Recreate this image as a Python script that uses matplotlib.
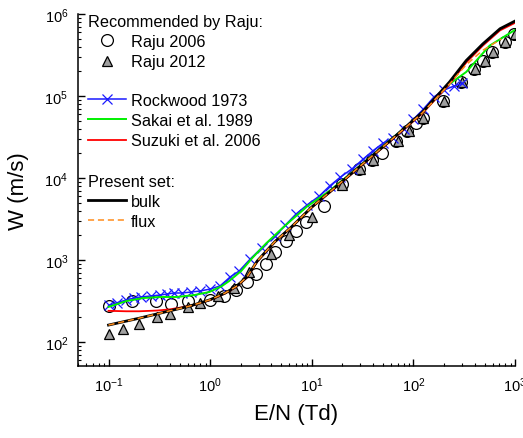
import numpy as np
import matplotlib
matplotlib.use("Agg")
import matplotlib.pyplot as plt
from matplotlib.lines import Line2D

plt.rcParams['font.family'] = ['Liberation Sans', 'DejaVu Sans']
plt.rcParams['mathtext.fontset'] = 'custom'
plt.rcParams['mathtext.rm'] = 'Liberation Sans'

# Raju 2006 (open circles)
raju06_en = [0.1, 0.17, 0.29, 0.41, 0.6, 1.0, 1.37, 1.8, 2.3, 2.84, 3.56, 4.37, 5.6, 7.0, 8.7,
             13.3, 20, 29, 39.5, 49, 68, 87, 107, 125, 195, 290, 390, 480, 590, 790, 980]
raju06_w = [275, 316, 316, 290, 316, 325, 364, 430, 540, 675, 890, 1250, 1700, 2250, 2900,
            4550, 8450, 12900, 16600, 20000, 28000, 37000, 47000, 54000, 87000, 148000,
            215000, 270000, 345000, 460000, 570000]

# Raju 2012 (grey triangles)
raju12_en = [0.1, 0.14, 0.2, 0.3, 0.4, 0.6, 0.8, 1.2, 1.7, 2.4, 4, 6, 10, 20, 30, 40, 70, 90,
             125, 200, 300, 400, 500, 600, 800, 1000]
raju12_w = [125, 145, 166, 200, 220, 268, 300, 364, 455, 715, 1180, 2020, 3350, 8200, 12900,
            16600, 28000, 37000, 54000, 87000, 148000, 215000, 270000, 345000, 460000, 570000]

# Rockwood 1973
rock_en = [0.1, 0.12, 0.15, 0.18, 0.21, 0.26, 0.32, 0.38, 0.44, 0.53, 0.65, 0.8, 1.0, 1.25,
           1.57, 1.93, 2.48, 3.2, 4.3, 5.5, 7.0, 9.0, 11.8, 15, 19, 25, 32, 40, 50, 63, 80,
           100, 125, 160, 200, 250, 300]
rock_w = [280, 300, 326, 345, 354, 364, 374, 385, 396, 396, 407, 419, 443, 482, 620, 735,
          1030, 1400, 1960, 2670, 3640, 4700, 6000, 8000, 10200, 13000, 17000, 21500, 26500,
          31000, 40000, 52000, 69000, 98000, 118000, 132000, 142000]

# Sakai et al. 1989
sakai_en = [0.1, 0.15, 0.22, 0.33, 0.47, 0.7, 0.98, 1.3, 1.54, 2.02, 2.6, 3.56, 5.6, 9, 15,
            29, 60, 122, 226, 330, 560, 1000]
sakai_w = [268, 316, 344, 354, 354, 374, 407, 480, 555, 735, 1060, 1600, 2700, 4500, 7000,
           13700, 29500, 62000, 140000, 196000, 410000, 640000]

# Suzuki et al. 2006
suzuki_en = [0.1, 0.15, 0.2, 0.3, 0.4, 0.5, 0.7, 1.0, 1.4, 1.8, 2.3, 2.9, 4.3, 6.3, 10, 15,
             29, 60, 122, 226, 330, 480, 710, 1000]
suzuki_w = [240, 237, 237, 242, 250, 262, 283, 325, 390, 470, 610, 950, 1640, 2500, 4350,
            6650, 13300, 28500, 61000, 140000, 255000, 410000, 630000, 780000]

# present set, bulk and flux
bulk_en = [0.1, 0.2, 0.3, 0.4, 0.6, 0.8, 1.0, 1.4, 1.8, 2.3, 2.9, 4.3, 6.3, 10, 15, 29, 60,
           122, 226, 330, 480, 710, 1000]
bulk_w = [161, 195, 220, 240, 270, 300, 328, 395, 475, 620, 970, 1660, 2530, 4430, 6750,
          13500, 29000, 63000, 148000, 270000, 430000, 660000, 820000]
flux_en = [0.1, 0.2, 0.3, 0.4, 0.6, 0.8, 1.0, 1.4, 1.8, 2.3, 2.9, 4.3, 6.3, 10, 15, 29, 60,
           122, 226, 330, 480, 730]
flux_w = [161, 195, 220, 240, 270, 300, 328, 395, 475, 620, 970, 1660, 2530, 4430, 6750,
          13500, 29000, 62000, 140000, 240000, 360000, 495000]

fig = plt.figure(figsize=(5.23, 4.39), dpi=100)
ax = fig.add_axes([0.149, 0.164, 0.836, 0.802])

c06, = ax.plot(raju06_en, raju06_w, 'o', ms=8.5, mfc='none', mec='black', mew=0.9)
t12, = ax.plot(raju12_en, raju12_w, '^', ms=7.5, mfc='#a0a0a0', mec='black', mew=0.9)
rk, = ax.plot(rock_en, rock_w, '-x', color='#1a1aff', lw=1.1, ms=7, mew=0.9)
sk, = ax.plot(sakai_en, sakai_w, '-', color='#00f000', lw=1.4)
sz, = ax.plot(suzuki_en, suzuki_w, '-', color='#ff0000', lw=1.3)
bk, = ax.plot(bulk_en, bulk_w, '-', color='black', lw=2.0)
fx, = ax.plot(flux_en, flux_w, '--', color='#ff8c1a', lw=1.1, dashes=(4, 2.5))

ax.set_xscale('log')
ax.set_yscale('log')
ax.set_xlim(0.05, 1000)
ax.set_ylim(51, 1e6)

for s in ['top', 'right']:
    ax.spines[s].set_visible(False)
ax.spines['left'].set_linewidth(1.1)
ax.spines['bottom'].set_linewidth(1.1)
ax.tick_params(which='major', direction='in', length=5, width=1.0, labelsize=10.5, pad=7)
ax.tick_params(which='minor', direction='in', length=2.5, width=0.8)

ax.set_xlabel('E/N (Td)', fontsize=16, labelpad=6)
ax.set_ylabel('W (m/s)', fontsize=16, labelpad=11)

kw = dict(frameon=False, fontsize=11.7, borderpad=0, borderaxespad=0, handlelength=2.35,
          handletextpad=0.3, labelspacing=0.32, loc='upper left', title_fontsize=11.7)
leg1 = ax.legend([c06, t12], ['Raju 2006', 'Raju 2012'], title='Recommended by Raju:',
                 bbox_to_anchor=(0.023, 1.0), **kw)
leg1._legend_box.align = 'left'
ax.add_artist(leg1)
leg2 = ax.legend([rk, sk, sz], ['Rockwood 1973', 'Sakai et al. 1989', 'Suzuki et al. 2006'],
                 bbox_to_anchor=(0.023, 0.776), **kw)
ax.add_artist(leg2)
bk_h = Line2D([], [], color='black', lw=2.0)
fx_h = Line2D([], [], color='#ff8c1a', lw=1.1, ls='--', dashes=(4, 2.5))
leg3 = ax.legend([bk_h, fx_h], ['bulk', 'flux'], title='Present set:',
                 bbox_to_anchor=(0.023, 0.546), **kw)
leg3._legend_box.align = 'left'

fig.savefig('out.png', dpi=100)
